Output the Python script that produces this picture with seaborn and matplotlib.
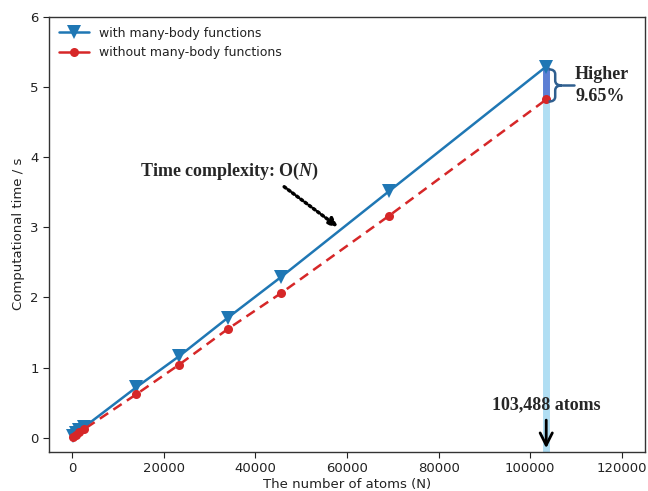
import matplotlib
matplotlib.use("Agg")
import matplotlib.pyplot as plt
from matplotlib.path import Path
from matplotlib.patches import PathPatch
import seaborn as sns

natoms = [192, 768, 1536, 2592, 14040, 23328, 34000, 45600, 69120, 103488]
with_mb = [0.03, 0.07, 0.11, 0.15, 0.72, 1.16, 1.71, 2.29, 3.51, 5.29]
without_mb = [0.01, 0.04, 0.08, 0.12, 0.62, 1.04, 1.55, 2.06, 3.16, 4.82]
xticks = [0, 20000, 40000, 60000, 80000, 100000, 120000]
yticks = [0, 1, 2, 3, 4, 5, 6]


def main():
    sns.set_style("ticks")
    plt.rcParams["font.family"] = ["DejaVu Sans"]
    plt.rcParams["mathtext.fontset"] = "custom"
    plt.rcParams["mathtext.it"] = "Liberation Serif:italic:bold"
    plt.rcParams["mathtext.rm"] = "Liberation Serif:bold"

    fig = plt.figure(figsize=(6.48, 4.91), dpi=100)
    ax = fig.add_axes([0.076, 0.08, 0.919, 0.886])

    blue = "#1f77b4"
    red = "#d62728"

    # highlight bar at the largest system
    ax.plot([natoms[-1], natoms[-1]], [-0.2, with_mb[-1]], color="#8fd0ee",
            lw=5, alpha=0.7, solid_capstyle="butt", zorder=1)
    ax.plot([natoms[-1], natoms[-1]], [without_mb[-1], with_mb[-1]], color="#4f6fcf",
            lw=5, alpha=0.85, solid_capstyle="butt", zorder=1)

    sns.lineplot(x=natoms, y=with_mb, ax=ax, color=blue, lw=1.8, marker="v",
                 markersize=10, markeredgewidth=0, label="with many-body functions",
                 zorder=3)
    sns.lineplot(x=natoms, y=without_mb, ax=ax, color=red, lw=1.8, marker="o",
                 markersize=6.5, markeredgewidth=0,
                 label="without many-body functions", zorder=4)
    ax.lines[-1].set_linestyle((0, (4, 2.5)))

    ax.set_xlim(-5000, 125000)
    ax.set_ylim(-0.2, 6)
    ax.set_xticks(xticks)
    ax.set_yticks(yticks)
    ax.tick_params(labelsize=9.5, length=4, colors="#222222")
    ax.set_xlabel("The number of atoms (N)", fontsize=9.5, labelpad=2, color="#222222")
    ax.set_ylabel("Computational time / s", fontsize=9.5, color="#222222")
    for s in ax.spines.values():
        s.set_linewidth(1.0)
        s.set_color("#333333")

    leg = ax.legend(loc="upper left", frameon=False, fontsize=9, handlelength=2.4,
                    borderaxespad=0.4)
    for t in leg.get_texts():
        t.set_color("#222222")
    leg.get_lines()[1].set_linestyle("-")

    # annotations
    ax.text(14800, 3.8, r"Time complexity: O($\mathit{N}$)", family="Liberation Serif",
            fontweight="bold", fontsize=13, va="center", ha="left")
    ax.annotate("", xy=(58500, 2.98), xytext=(45800, 3.6),
                arrowprops=dict(arrowstyle="-|>", color="black", lw=2.5,
                                linestyle=(0, (0.6, 0.9)), mutation_scale=12))

    ax.text(natoms[-1], 0.47, "103,488 atoms", family="Liberation Serif",
            fontweight="bold", fontsize=13, va="center", ha="center")
    ax.annotate("", xy=(natoms[-1], -0.19), xytext=(natoms[-1], 0.29),
                arrowprops=dict(arrowstyle="->", color="black", lw=2,
                                mutation_scale=22))

    # curly brace for the difference
    xl, xr = 104000, 106900
    xm = (xl + xr) / 2
    yt, yb = with_mb[-1] - 0.04, without_mb[-1] - 0.03
    ym = (yt + yb) / 2
    k = 0.07
    verts = [(xl, yt), (xm, yt), (xm, yt - k),
             (xm, ym + k),
             (xm, ym), (xr, ym),
             (xm, ym), (xm, ym - k),
             (xm, yb + k),
             (xm, yb), (xl, yb)]
    codes = [Path.MOVETO, Path.CURVE3, Path.CURVE3,
             Path.LINETO,
             Path.CURVE3, Path.CURVE3,
             Path.CURVE3, Path.CURVE3,
             Path.LINETO,
             Path.CURVE3, Path.CURVE3]
    ax.add_patch(PathPatch(Path(verts, codes), fill=False, color="#2f5f8f",
                           lw=1.8, zorder=5))
    ax.plot([xr, 109600], [ym, ym], color="#2f5f8f", lw=1.8, zorder=5)
    ax.text(109800, ym, "Higher\n9.65%", family="Liberation Serif", fontweight="bold",
            fontsize=13, va="center", ha="left", linespacing=1.45)

    fig.savefig("out.png", dpi=100)
    plt.close(fig)


if __name__ == "__main__":
    main()
